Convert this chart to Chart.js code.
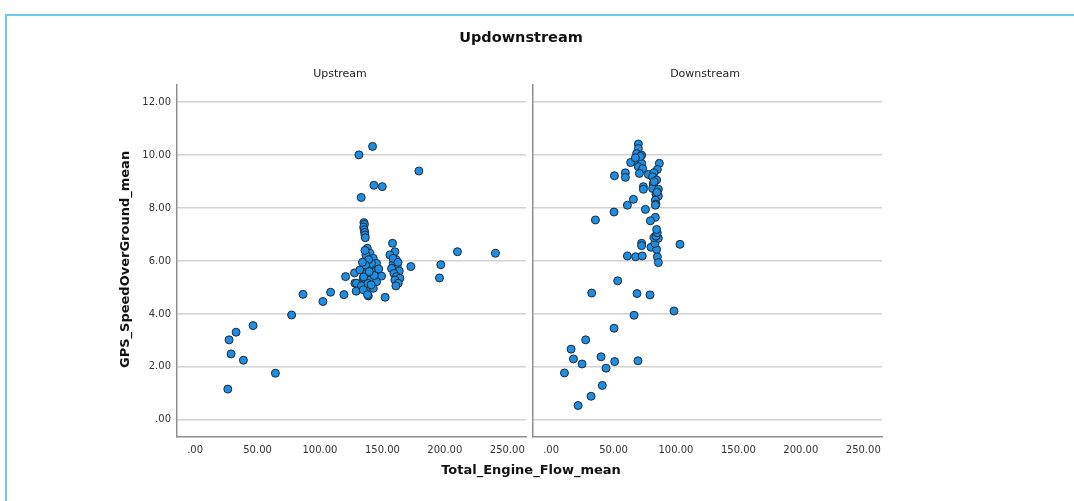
<!DOCTYPE html>
<html>
<head>
<meta charset="utf-8">
<script src="https://cdn.jsdelivr.net/npm/chart.js@4.4.1/dist/chart.umd.min.js"></script>
<style>
  body { margin: 0; background: #fff; }
  #wrap { position: relative; width: 1074px; height: 501px; overflow: hidden; font-family: "DejaVu Sans", sans-serif; color: #222; }
  #frame { position: absolute; left: 5px; top: 14px; width: 1100px; height: 600px; border-top: 2px solid #6ccbec; border-left: 2px solid #6ccbec; }
  canvas { position: absolute; top: 0; }
  .txt { position: absolute; white-space: nowrap; }
  #title { left: 0; width: 1042px; top: 29px; text-align: center; font-weight: bold; font-size: 14.5px; line-height: 17px; color: #111; }
  .panel { top: 67px; width: 200px; text-align: center; font-size: 11px; line-height: 14px; }
  #xTitle { left: 331px; width: 400px; top: 462px; text-align: center; font-weight: bold; font-size: 13px; line-height: 16px; color: #111; }
  #yTitle { left: 25px; width: 200px; top: 260px; text-align: center; font-weight: bold; font-size: 13px; line-height: 16px; color: #111; transform: rotate(-90deg); }
</style>
</head>
<body>
<div id="wrap">
  <div id="frame"></div>
  <canvas id="up" width="545" height="501" style="left:0"></canvas>
  <canvas id="down" width="547" height="501" style="left:527px"></canvas>
  <div id="title" class="txt">Updownstream</div>
  <div class="txt panel" style="left:240px">Upstream</div>
  <div class="txt panel" style="left:605px">Downstream</div>
  <div id="xTitle" class="txt">Total_Engine_Flow_mean</div>
  <div id="yTitle" class="txt">GPS_SpeedOverGround_mean</div>
</div>
<script>
// Total_Engine_Flow_mean / GPS_SpeedOverGround_mean per group
var upFlow = [26.2, 27.2, 28.8, 32.8, 38.7, 46.4, 64.3, 77.3, 86.4, 102.4, 108.5, 119.2, 120.5, 127.7, 128.0, 129.0,
  131.2, 142.1, 133.0, 143.2, 149.9, 179.2,
  135.2, 135.6, 135.0, 135.4, 135.8, 136.0, 136.3,
  137.9, 140.0, 136.8, 142.7, 145.3, 135.5, 141.3, 132.0, 137.3, 144.0, 149.3, 134.7, 140.0, 145.3, 129.3, 133.3,
  138.7, 142.7, 134.7, 138.7, 138.1, 152.2, 137.3, 141.3, 135.0, 139.0, 136.5, 143.5, 138.5, 147.0, 136.0, 141.0,
  134.0, 139.5,
  158.1, 160.0, 156.0, 160.8, 158.7, 161.9, 157.3, 163.5, 159.2, 161.3, 164.0, 160.0, 162.7, 160.8, 158.5, 162.5,
  172.8, 195.7, 196.8, 210.1, 240.5];
var upSpeed = [1.16, 3.02, 2.49, 3.31, 2.25, 3.56, 1.76, 3.96, 4.74, 4.47, 4.82, 4.73, 5.41, 5.55, 5.16, 4.86,
  10.01, 10.33, 8.40, 8.86, 8.81, 9.40,
  7.45, 7.38, 7.28, 7.18, 7.08, 6.98, 6.88,
  6.48, 6.29, 6.23, 6.10, 5.91, 5.79, 5.72, 5.66, 5.53, 5.60, 5.43, 5.35, 5.28, 5.22, 5.16, 5.06,
  5.01, 4.97, 4.91, 4.68, 4.73, 4.63, 5.97, 5.91, 5.40, 6.05, 5.85, 5.45, 5.15, 5.70, 6.40, 5.10,
  5.95, 5.60,
  6.67, 6.35, 6.23, 6.06, 5.91, 5.79, 5.72, 5.62, 5.53, 5.41, 5.35, 5.28, 5.16, 5.06, 6.10, 5.95,
  5.79, 5.36, 5.86, 6.35, 6.29];

var downFlow = [98.4, 66.4, 50.4, 27.7, 16.0, 17.9, 24.8, 40.0, 50.9, 69.6, 10.7, 44.0, 41.0, 32.0, 21.6,
  53.3, 32.5, 68.8, 79.2, 103.2, 50.4, 61.1, 65.9, 75.5, 35.5, 83.5, 79.5,
  61.1, 67.7, 73.0, 72.5, 72.5, 80.0, 85.1, 85.9, 84.5, 83.2, 85.9, 82.4, 84.0, 85.0, 84.5,
  69.9, 69.9, 68.5, 72.5, 70.7, 68.0, 63.7, 72.5, 69.9, 73.3, 70.7, 71.5, 67.5, 86.7, 50.7, 59.5, 59.5, 77.9,
  85.1, 82.4, 81.3, 84.5, 81.9, 81.3, 85.9, 84.0, 85.9, 83.5, 84.0, 83.5, 73.9, 73.9, 82.5, 84.8];
var downSpeed = [4.11, 3.95, 3.46, 3.02, 2.67, 2.30, 2.11, 2.38, 2.20, 2.23, 1.77, 1.95, 1.30, 0.89, 0.54,
  5.25, 4.79, 4.77, 4.72, 6.63, 7.85, 8.11, 8.33, 7.95, 7.55, 7.65, 7.52,
  6.19, 6.16, 6.19, 6.67, 6.58, 6.52, 6.16, 5.94, 6.44, 6.67, 6.86, 6.89, 6.94, 7.07, 7.19,
  10.42, 10.25, 10.06, 10.00, 9.88, 9.75, 9.72, 9.69, 9.56, 9.49, 9.31, 9.95, 9.90, 9.69, 9.22, 9.33, 9.16, 9.27,
  9.46, 9.33, 9.18, 9.06, 8.91, 8.74, 8.71, 8.53, 8.45, 8.30, 8.15, 8.11, 8.81, 8.71, 9.00, 8.60];

var xTicks = [0, 50, 100, 150, 200, 250];
var yTicks = [0, 2, 4, 6, 8, 10, 12];

function fmt(v) {
  return v.toFixed(2).replace(/^0\./, '.');
}

function points(xs, ys) {
  return xs.map(function(x, i) { return { x: x, y: ys[i] }; });
}

function makePanel(id, xs, ys, yAxisWidth, padRight, showYLabels) {
  var ctx = document.getElementById(id).getContext('2d');
  return new Chart(ctx, {
    type: 'scatter',
    data: {
      datasets: [{
        data: points(xs, ys),
        pointRadius: 4,
        pointHoverRadius: 4,
        pointBackgroundColor: '#1f8de0',
        pointBorderColor: '#1b2a3c',
        pointBorderWidth: 1
      }]
    },
    options: {
      responsive: false,
      animation: false,
      events: [],
      layout: { padding: { top: 85, right: padRight, bottom: 0, left: 0 } },
      plugins: { legend: { display: false }, tooltip: { enabled: false } },
      scales: {
        x: {
          type: 'linear',
          min: -14.5,
          max: 265,
          afterBuildTicks: function(s) { s.ticks = xTicks.map(function(v) { return { value: v }; }); },
          afterFit: function(s) { s.height = 64; },
          grid: { color: 'rgba(0,0,0,0)', drawTicks: false },
          border: { display: true, color: '#8e8e8e', width: 1.5 },
          ticks: {
            padding: 7,
            maxRotation: 0,
            autoSkip: false,
            color: '#333',
            font: { family: 'DejaVu Sans', size: 10 },
            callback: fmt
          }
        },
        y: {
          type: 'linear',
          min: -0.65,
          max: 12.65,
          afterBuildTicks: function(s) { s.ticks = yTicks.map(function(v) { return { value: v }; }); },
          afterFit: function(s) { s.width = yAxisWidth; },
          grid: { color: '#d2d2d2', lineWidth: 1.5, drawTicks: false },
          border: { display: true, color: '#8e8e8e', width: 1.5 },
          ticks: {
            display: showYLabels,
            padding: 6,
            color: '#333',
            font: { family: 'DejaVu Sans', size: 10 },
            callback: fmt
          }
        }
      }
    }
  });
}

makePanel('up', upFlow, upSpeed, 177, 19, true);
makePanel('down', downFlow, downSpeed, 6, 192, false);
</script>
</body>
</html>
